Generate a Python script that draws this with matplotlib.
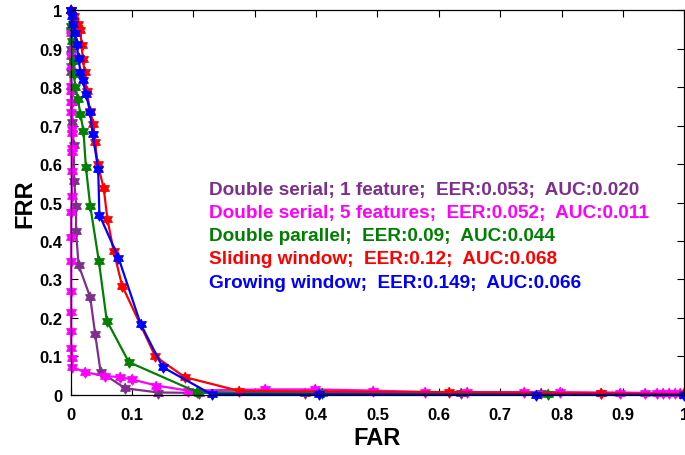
import matplotlib
matplotlib.use("Agg")
import numpy as np
import matplotlib.pyplot as plt

# FAR / FRR points
far_serial1 = [0.000, 0.000, 0.001, 0.001, 0.002, 0.002, 0.003, 0.005, 0.006, 0.009, 0.009,
               0.013, 0.032, 0.040, 0.049, 0.089, 0.143, 0.210, 0.382, 0.636, 0.767, 1.000]
frr_serial1 = [1.000, 0.950, 0.900, 0.840, 0.790, 0.761, 0.709, 0.650, 0.557, 0.492, 0.425,
               0.338, 0.254, 0.159, 0.059, 0.017, 0.006, 0.005, 0.005, 0.005, 0.004, 0.003]

far_serial5 = [0.000, 0.000, 0.000, 0.000, 0.000, 0.001, 0.001, 0.001, 0.002, 0.002, 0.002,
               0.002, 0.002, 0.002, 0.001, 0.001, 0.001, 0.001, 0.001, 0.001, 0.001, 0.002,
               0.003, 0.023, 0.056, 0.080, 0.100, 0.140, 0.191, 0.317, 0.398, 0.493, 0.577,
               0.646, 0.739, 0.797, 0.865, 0.895, 0.936, 0.955, 0.965, 0.975, 0.985, 0.993, 1.000]
frr_serial5 = [1.000, 0.940, 0.882, 0.856, 0.804, 0.791, 0.761, 0.735, 0.692, 0.681, 0.642,
               0.631, 0.583, 0.518, 0.475, 0.410, 0.349, 0.271, 0.216, 0.165, 0.121, 0.096,
               0.072, 0.059, 0.049, 0.046, 0.040, 0.024, 0.011, 0.014, 0.014, 0.011, 0.007,
               0.007, 0.007, 0.007, 0.006, 0.006, 0.005, 0.005, 0.005, 0.005, 0.004, 0.004, 0.004]

far_parallel = [0.000, 0.001, 0.002, 0.004, 0.005, 0.008, 0.012, 0.016, 0.021, 0.025, 0.032,
                0.046, 0.059, 0.095, 0.206, 0.409, 0.778, 1.000]
frr_parallel = [1.000, 0.960, 0.920, 0.869, 0.835, 0.800, 0.770, 0.730, 0.687, 0.592, 0.492,
                0.349, 0.193, 0.085, 0.007, 0.004, 0.002, 0.001]

far_sliding = [0.000, 0.006, 0.012, 0.016, 0.018, 0.020, 0.023, 0.026, 0.032, 0.037, 0.040,
               0.044, 0.054, 0.060, 0.070, 0.084, 0.138, 0.186, 0.275, 0.617, 0.865, 1.000]
frr_sliding = [1.000, 0.985, 0.965, 0.950, 0.909, 0.874, 0.839, 0.790, 0.739, 0.705, 0.657,
               0.601, 0.538, 0.458, 0.375, 0.284, 0.100, 0.046, 0.010, 0.007, 0.004, 0.002]

far_growing = [0.000, 0.002, 0.004, 0.007, 0.010, 0.013, 0.016, 0.020, 0.025, 0.032, 0.036,
               0.045, 0.047, 0.078, 0.114, 0.150, 0.230, 0.404, 0.759, 1.000]
frr_growing = [1.000, 0.985, 0.965, 0.940, 0.913, 0.875, 0.841, 0.818, 0.783, 0.735, 0.678,
               0.588, 0.468, 0.357, 0.185, 0.072, 0.001, 0.001, 0.000, 0.000]

labels = [
    "Double serial; 1 feature;  EER:0.053;  AUC:0.020",
    "Double serial; 5 features;  EER:0.052;  AUC:0.011",
    "Double parallel;  EER:0.09;  AUC:0.044",
    "Sliding window;  EER:0.12;  AUC:0.068",
    "Growing window;  EER:0.149;  AUC:0.066",
]
colors = ["#7E2F8E", "#FF00FF", "#008000", "#FF0000", "#0000FF"]
ticks = [0, 0.1, 0.2, 0.3, 0.4, 0.5, 0.6, 0.7, 0.8, 0.9, 1]
tick_labels = ["0", "0.1", "0.2", "0.3", "0.4", "0.5", "0.6", "0.7", "0.8", "0.9", "1"]

plt.rcParams['font.family'] = ['Liberation Sans', 'DejaVu Sans']
plt.rcParams['font.weight'] = 'bold'

# fat six-pointed star like MATLAB's hexagram
ang = np.deg2rad(90 + 30 * np.arange(12))
rad = np.where(np.arange(12) % 2 == 0, 1.0, 0.58)
hexagram = np.column_stack([rad * np.cos(ang), rad * np.sin(ang)])

fig = plt.figure(figsize=(6.85, 4.56), dpi=100)
ax = fig.add_axes([0.103, 0.132, 0.896, 0.843])

series = [(far_serial1, frr_serial1), (far_serial5, frr_serial5),
          (far_parallel, frr_parallel), (far_sliding, frr_sliding),
          (far_growing, frr_growing)]
for (x, y), c in zip(series, colors):
    ax.plot(x, y, color=c, lw=1.6, marker=hexagram, markersize=8,
            markerfacecolor=c, markeredgecolor=c, markeredgewidth=0.8, clip_on=False)

# text "legend" inside the axes
for i, (lab, c) in enumerate(zip(labels, colors)):
    ax.text(0.225, 0.535 - i * 0.0605, lab, color=c, fontsize=13.7,
            fontweight='bold', va='center', ha='left')

ax.set_xlim(0, 1)
ax.set_ylim(0, 1)
ax.set_xticks(ticks)
ax.set_xticklabels(tick_labels)
ax.set_yticks(ticks)
ax.set_yticklabels(tick_labels)
ax.tick_params(direction='in', top=True, right=True, length=5, width=0.8,
               labelsize=12, pad=6)
ax.tick_params(axis='x', pad=9)
for lbl in ax.get_xticklabels() + ax.get_yticklabels():
    lbl.set_fontweight('bold')
ax.set_xlabel("FAR", fontsize=17, fontweight='bold', labelpad=3)
ax.set_ylabel("FRR", fontsize=17, fontweight='bold', labelpad=2)
for s in ax.spines.values():
    s.set_linewidth(0.9)

fig.savefig("out.png", dpi=100)
